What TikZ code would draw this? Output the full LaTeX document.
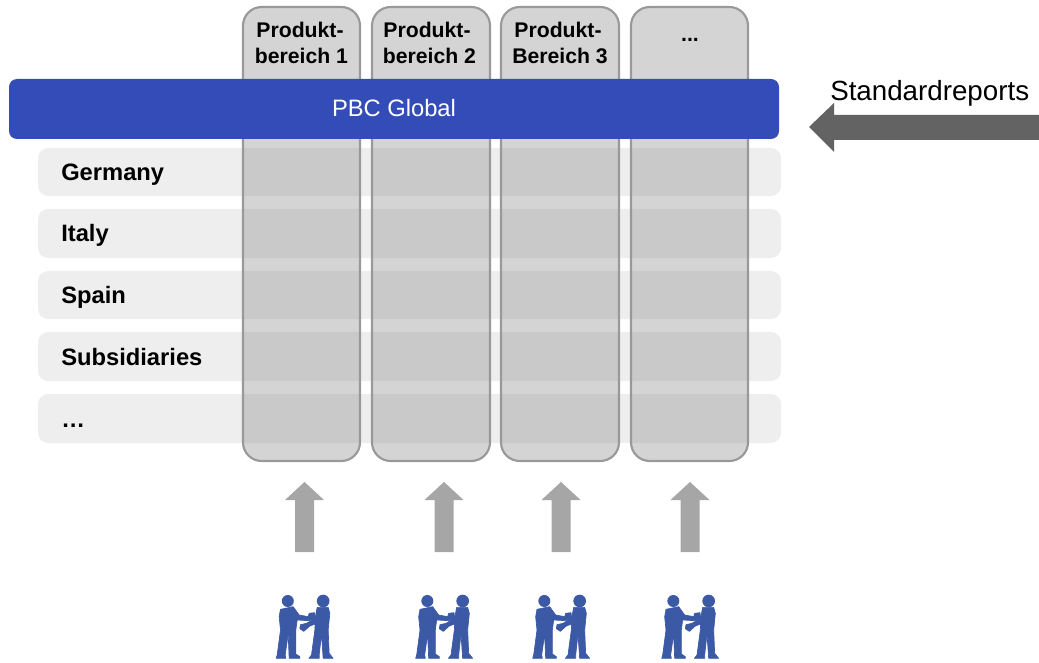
\documentclass[tikz,border=0pt]{standalone}
\usepackage{fontspec}
\setmainfont{Liberation Sans}
\definecolor{barblue}{HTML}{344CB8}
\definecolor{iconblue}{HTML}{3B59A5}
\definecolor{rowgray}{HTML}{EEEEEE}
\definecolor{colfill}{RGB}{132,132,132}
\definecolor{colline}{HTML}{999999}
\definecolor{uparrow}{HTML}{A6A6A6}
\definecolor{leftarrow}{HTML}{636363}
\tikzset{
  px/.style={x=0.75pt,y=-0.75pt},
  rowbox/.style={fill=rowgray,rounded corners=7.5pt},
  colbox/.style={fill=colfill,fill opacity=.35,draw=colline,line width=1.6pt,rounded corners=14pt},
  bar/.style={fill=barblue,rounded corners=6pt},
  rowlabel/.style={anchor=base west,inner sep=0pt,font=\fontsize{17.8}{20}\selectfont\bfseries},
  collabel/.style={anchor=base,inner sep=0pt,font=\fontsize{15.9}{18}\selectfont\bfseries},
  upblock/.style={fill=uparrow},
  leftblock/.style={fill=leftarrow},
  figure part/.style={fill=iconblue,draw=iconblue,line width=0.5pt,line join=round},
  person/.pic={
    \begin{scope}[x=0.25pt,y=-0.25pt,xshift=-33.5pt,yshift=0pt]
      \fill[iconblue] (84,393) circle[radius=18];
      \fill[iconblue] (190,393) circle[radius=19];
      \path[figure part] (62,418) -- (100,410) -- (118,435) -- (145,440) -- (148,430) -- (164,428) -- (166,444) -- (148,452) -- (112,450) -- (108,480) -- (108,552) -- (120,560) -- (120,565) -- (88,565) -- (85,492) -- (76,555) -- (78,565) -- (49,565) -- (52,555) -- (62,480) -- (58,440) -- cycle;
      \path[figure part] (172,412) -- (205,412) -- (210,430) -- (205,480) -- (208,550) -- (220,565) -- (190,565) -- (185,492) -- (178,555) -- (178,565) -- (147,565) -- (155,555) -- (165,480) -- (166,462) -- (150,468) -- (132,484) -- (120,476) -- (122,464) -- (140,460) -- (166,444) -- cycle;
    \end{scope}
  }
}
\begin{document}
\begin{tikzpicture}[px]
\useasboundingbox (0,0) rectangle (1039,663);
% rows
\fill[rowbox] (38,148) rectangle (781,196);
\fill[rowbox] (38,209) rectangle (781,258);
\fill[rowbox] (38,271) rectangle (781,319);
\fill[rowbox] (38,332) rectangle (781,381);
\fill[rowbox] (38,394) rectangle (781,443);
% columns
\path[colbox] (243,7) rectangle (360,461);
\path[colbox] (372,7) rectangle (490,461);
\path[colbox] (501,7) rectangle (619,461);
\path[colbox] (631,7) rectangle (748,461);
% bar
\fill[bar] (9,79) rectangle (779,139);
\node[anchor=base,inner sep=0pt,text=white,font=\fontsize{17.8}{20}\selectfont] (pbc) at (394,117) {PBC Global};
% column labels
\node[collabel] (c1a) at (300,38) {Produkt-};
\node[collabel] (c1b) at (301.5,63.5) {bereich 1};
\node[collabel] (c2a) at (427,38) {Produkt-};
\node[collabel] (c2b) at (429.5,63.5) {bereich 2};
\node[collabel] (c3a) at (558,38) {Produkt-};
\node[collabel] (c3b) at (560,63.5) {Bereich 3};
\node[collabel] (c4a) at (690,42) {...};
% row labels
\node[rowlabel] (r1) at (61,180.5) {Germany};
\node[rowlabel] (r2) at (61,241.5) {Italy};
\node[rowlabel] (r3) at (61,303) {Spain};
\node[rowlabel] (r4) at (61,365) {Subsidiaries};
\node[rowlabel] (r5) at (61,427) {…};
% standard reports
\node[anchor=base west,inner sep=0pt,font=\fontsize{20.8}{24}\selectfont] (std) at (830,100.5) {Standardreports};
\fill[leftblock] (809,127) -- (834,103) -- (834,115) -- (1039,115) -- (1039,140) -- (834,140) -- (834,152) -- cycle;
% up arrows and people
\foreach \cx in {304.5,444,561,690}{
  \fill[upblock,shift={(\cx,0)}] (0,482) -- (19.5,500) -- (9.5,500) -- (9.5,552) -- (-9.5,552) -- (-9.5,500) -- (-19.5,500) -- cycle;
  \pic at (\cx,470) {person};
}
\end{tikzpicture}
\end{document}
